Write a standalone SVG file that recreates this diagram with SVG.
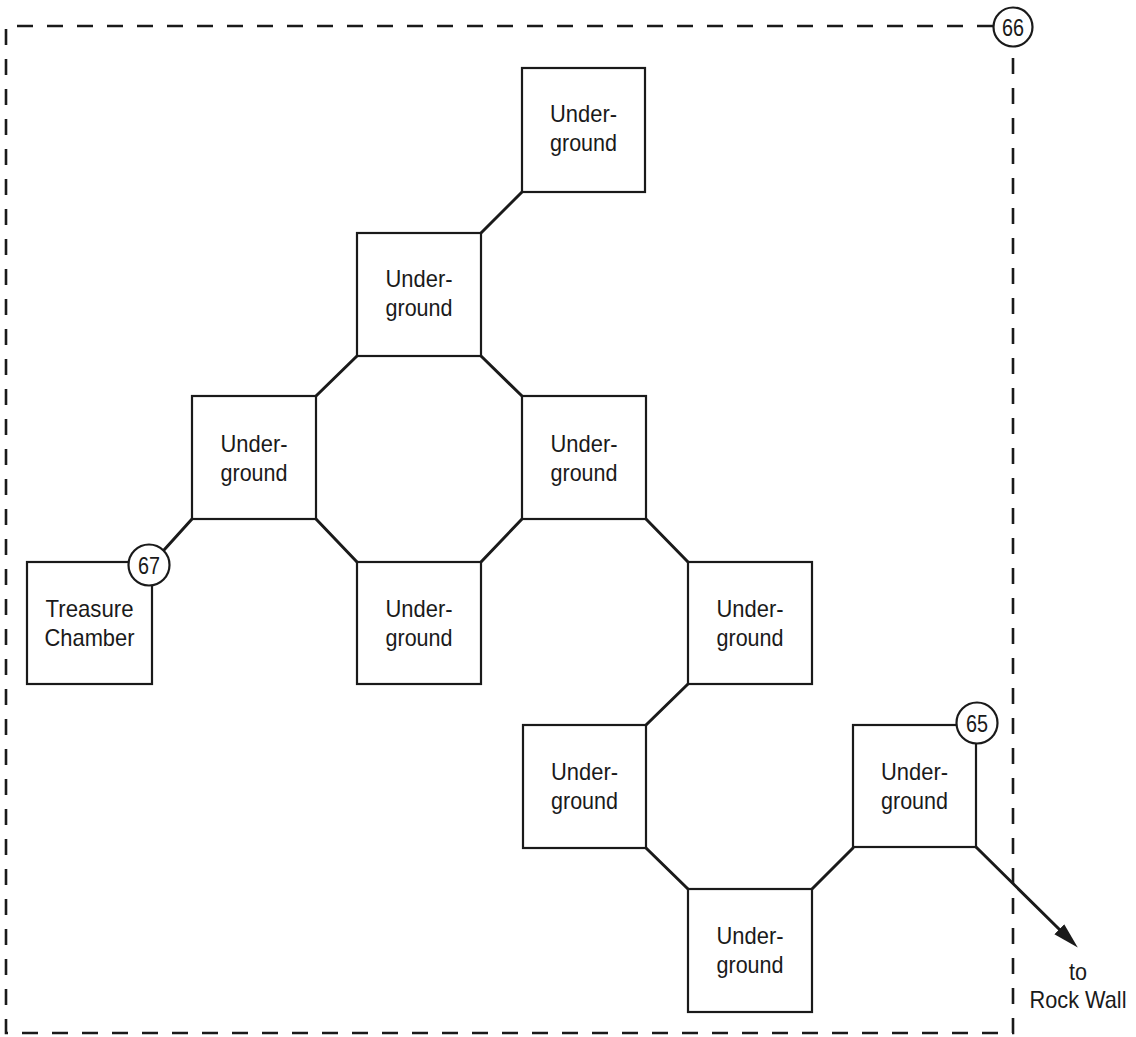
<svg xmlns="http://www.w3.org/2000/svg" width="1136" height="1037" viewBox="0 0 1136 1037">
  <style>
    .box { fill: #ffffff; stroke: #1a1a1a; stroke-width: 2.2; }
    .lbl { font-family: "Liberation Sans", Arial, Helvetica, sans-serif; font-size: 24px; fill: #1a1a1a; text-anchor: middle; }
    .num { font-family: "Liberation Sans", Arial, Helvetica, sans-serif; font-size: 24px; fill: #1a1a1a; text-anchor: middle; }
    .circ { fill: #ffffff; stroke: #1a1a1a; stroke-width: 2.2; }
    .conn { stroke: #1a1a1a; stroke-width: 3; fill: none; stroke-linecap: round; }
    .dash { stroke: #1a1a1a; stroke-width: 2.6; fill: none; stroke-dasharray: 16 14; }
  </style>
  <defs>
    <marker id="arrow" markerUnits="userSpaceOnUse" markerWidth="26" markerHeight="16" viewBox="0 0 26 16" refX="1" refY="8" orient="auto">
      <path d="M0,1 L26,8 L0,15 Z" fill="#1a1a1a"/>
    </marker>
  </defs>
  <rect width="1136" height="1037" fill="#ffffff"/>

  <g id="boundary">
    <path class="dash" d="M993,26 H6 V1033 H1013 V47"/>
  </g>

  <g id="connectors">
    <line class="conn" x1="522" y1="192" x2="481" y2="233"/>
    <line class="conn" x1="357" y1="356" x2="316" y2="396"/>
    <line class="conn" x1="481" y1="356" x2="522" y2="396"/>
    <line class="conn" x1="316" y1="519" x2="357" y2="562"/>
    <line class="conn" x1="522" y1="519" x2="481" y2="562"/>
    <line class="conn" x1="646" y1="519" x2="688" y2="562"/>
    <line class="conn" x1="688" y1="684" x2="646" y2="725"/>
    <line class="conn" x1="646" y1="848" x2="688" y2="889"/>
    <line class="conn" x1="812" y1="889" x2="853" y2="848"/>
    <line class="conn" x1="192" y1="519" x2="164" y2="550"/>
    <line class="conn" x1="976" y1="847" x2="1060" y2="930" marker-end="url(#arrow)"/>
  </g>

  <g id="n-ug1"><rect class="box" x="522" y="68" width="123" height="124"/><text class="lbl" x="583.5" y="122" textLength="67" lengthAdjust="spacingAndGlyphs">Under-</text><text class="lbl" x="583.5" y="151" textLength="67" lengthAdjust="spacingAndGlyphs">ground</text></g>
  <g id="n-ug2"><rect class="box" x="357" y="233" width="124" height="123"/><text class="lbl" x="419" y="287" textLength="67" lengthAdjust="spacingAndGlyphs">Under-</text><text class="lbl" x="419" y="316" textLength="67" lengthAdjust="spacingAndGlyphs">ground</text></g>
  <g id="n-ug3"><rect class="box" x="192" y="396" width="124" height="123"/><text class="lbl" x="254" y="452" textLength="67" lengthAdjust="spacingAndGlyphs">Under-</text><text class="lbl" x="254" y="481" textLength="67" lengthAdjust="spacingAndGlyphs">ground</text></g>
  <g id="n-ug4"><rect class="box" x="522" y="396" width="124" height="123"/><text class="lbl" x="584" y="452" textLength="67" lengthAdjust="spacingAndGlyphs">Under-</text><text class="lbl" x="584" y="481" textLength="67" lengthAdjust="spacingAndGlyphs">ground</text></g>
  <g id="n-ug5"><rect class="box" x="357" y="562" width="124" height="122"/><text class="lbl" x="419" y="617" textLength="67" lengthAdjust="spacingAndGlyphs">Under-</text><text class="lbl" x="419" y="646" textLength="67" lengthAdjust="spacingAndGlyphs">ground</text></g>
  <g id="n-ug6"><rect class="box" x="688" y="562" width="124" height="122"/><text class="lbl" x="750" y="617" textLength="67" lengthAdjust="spacingAndGlyphs">Under-</text><text class="lbl" x="750" y="646" textLength="67" lengthAdjust="spacingAndGlyphs">ground</text></g>
  <g id="n-ug7"><rect class="box" x="523" y="725" width="123" height="123"/><text class="lbl" x="584.5" y="780" textLength="67" lengthAdjust="spacingAndGlyphs">Under-</text><text class="lbl" x="584.5" y="809" textLength="67" lengthAdjust="spacingAndGlyphs">ground</text></g>
  <g id="n-ug8"><rect class="box" x="853" y="725" width="123" height="122"/><text class="lbl" x="914.5" y="780" textLength="67" lengthAdjust="spacingAndGlyphs">Under-</text><text class="lbl" x="914.5" y="809" textLength="67" lengthAdjust="spacingAndGlyphs">ground</text></g>
  <g id="n-ug9"><rect class="box" x="688" y="889" width="124" height="123"/><text class="lbl" x="750" y="944" textLength="67" lengthAdjust="spacingAndGlyphs">Under-</text><text class="lbl" x="750" y="973" textLength="67" lengthAdjust="spacingAndGlyphs">ground</text></g>
  <g id="n-treasure"><rect class="box" x="27" y="562" width="125" height="122"/><text class="lbl" x="89.5" y="617" textLength="88" lengthAdjust="spacingAndGlyphs">Treasure</text><text class="lbl" x="89.5" y="646" textLength="90" lengthAdjust="spacingAndGlyphs">Chamber</text></g>

  <g id="c67"><circle class="circ" cx="149" cy="565" r="20.5"/><text class="num" x="149" y="574" textLength="22" lengthAdjust="spacingAndGlyphs">67</text></g>
  <g id="c65"><circle class="circ" cx="977" cy="723" r="20.5"/><text class="num" x="977" y="732" textLength="22" lengthAdjust="spacingAndGlyphs">65</text></g>
  <g id="c66"><circle class="circ" cx="1013" cy="27" r="19.5"/><text class="num" x="1013" y="36" textLength="22" lengthAdjust="spacingAndGlyphs">66</text></g>

  <g id="exit-label">
    <text class="lbl" x="1078" y="980" textLength="18" lengthAdjust="spacingAndGlyphs">to</text>
    <text class="lbl" x="1078" y="1008" textLength="97" lengthAdjust="spacingAndGlyphs">Rock Wall</text>
  </g>
</svg>
